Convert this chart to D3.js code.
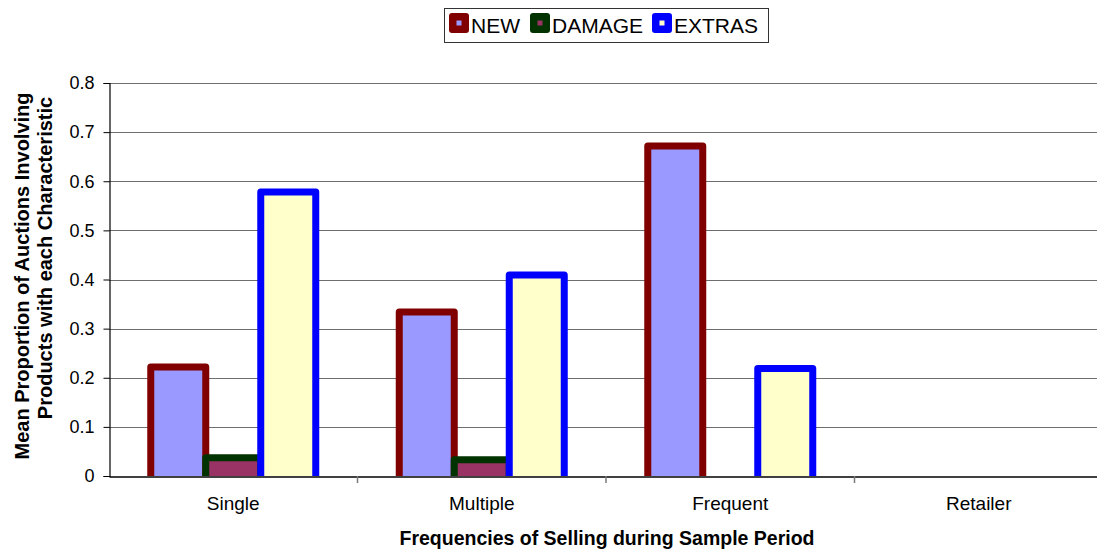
<!DOCTYPE html>
<html><head><meta charset="utf-8">
<script src="https://cdn.jsdelivr.net/npm/d3@7"></script>
<style>body{margin:0;background:#fff;}svg{display:block;font-family:"Liberation Sans",Arial,sans-serif;}</style>
</head><body>
<svg id="c" width="1097" height="555"></svg>
<script>
const categories = ["Single", "Multiple", "Frequent", "Retailer"];
const seriesNames = ["NEW", "DAMAGE", "EXTRAS"];
const newValues = [0.222, 0.334, 0.672, 0];
const damageValues = [0.037, 0.033, 0, 0];
const extrasValues = [0.578, 0.409, 0.219, 0];
const yTicks = [0, 0.1, 0.2, 0.3, 0.4, 0.5, 0.6, 0.7, 0.8];
const fills = ["#9999FF", "#993366", "#FFFFCC"];
const strokes = ["#800000", "#003300", "#0000FF"];

(function () {
const seriesValues = [newValues, damageValues, extrasValues];
const svg = d3.select("#c");
const pLeft = 109, pTop = 83, pBottom = 476, pRight = 1103;
const FONT = "Liberation Sans, Arial, sans-serif";

const x = d3.scaleBand().domain(categories).range([pLeft, pRight]).paddingInner(0).paddingOuter(0);
const x1 = d3.scaleBand().domain(seriesNames).range([0, 165]);
const y = d3.scaleLinear().domain([0, 0.8]).range([pBottom, pTop]);

// gridlines
svg.append("g").selectAll("line").data(yTicks.slice(1)).join("line")
  .attr("x1", pLeft).attr("x2", pRight)
  .attr("y1", d => Math.round(y(d)) + 0.5).attr("y2", d => Math.round(y(d)) + 0.5)
  .attr("stroke", "#6e6e6e").attr("stroke-width", 1.2);

// clip for bars
svg.append("clipPath").attr("id", "plotclip").append("rect")
  .attr("x", pLeft).attr("y", 0).attr("width", pRight - pLeft).attr("height", pBottom);

const barsG = svg.append("g").attr("clip-path", "url(#plotclip)");
seriesNames.forEach((s, si) => {
  barsG.append("g").selectAll("rect")
    .data(categories.map((c, i) => ({c, v: seriesValues[si][i]})).filter(d => d.v > 0))
    .join("rect")
    .attr("x", d => x(d.c) + (x.bandwidth() - 165) / 2 + x1(s))
    .attr("width", x1.bandwidth())
    .attr("y", d => y(d.v))
    .attr("height", d => y(0) - y(d.v) + 4)
    .attr("fill", fills[si])
    .attr("stroke", strokes[si])
    .attr("stroke-width", 7)
    .attr("stroke-linejoin", "round");
});

// y axis
const yAxis = d3.axisLeft(y).tickValues(yTicks).tickSize(6).tickPadding(9)
  .tickFormat(d => d === 0 ? "0" : d3.format(".1f")(d));
const ya = svg.append("g").attr("transform", `translate(${pLeft + 0.5},0)`).call(yAxis);
ya.select(".domain").attr("stroke", "#000").attr("stroke-width", 1.2);
ya.selectAll(".tick line").attr("stroke", "#000");
ya.selectAll("text").attr("font-size", 18).attr("fill", "#000").attr("font-family", FONT);

// x axis
const xa = svg.append("g").attr("transform", `translate(0,${pBottom + 0.5})`)
  .call(d3.axisBottom(x).tickSize(0).tickPadding(20));
xa.select(".domain").attr("stroke", "#000").attr("stroke-width", 1.5);
xa.selectAll("text").attr("font-size", 19).attr("fill", "#000").attr("font-family", FONT);
// category separator ticks
svg.append("g").selectAll("line").data(categories.slice(1)).join("line")
  .attr("x1", d => x(d)).attr("x2", d => x(d))
  .attr("y1", pBottom).attr("y2", pBottom + 7)
  .attr("stroke", "#7a7a7a").attr("stroke-width", 1.5);

// x title
svg.append("text").attr("x", 607).attr("y", 545).attr("text-anchor", "middle")
  .attr("font-size", 19.5).attr("font-weight", "bold")
  .text("Frequencies of Selling during Sample Period");

// y title (clipped at top like reference)
svg.append("clipPath").attr("id", "ytclip").append("rect")
  .attr("x", 0).attr("y", 94).attr("width", 60).attr("height", 460);
const yt = svg.append("g").attr("clip-path", "url(#ytclip)");
yt.append("text").attr("transform", "translate(29,276) rotate(-90)")
  .attr("text-anchor", "middle").attr("font-size", 20).attr("font-weight", "bold")
  .text("Mean Proportion of Auctions Involving");
yt.append("text").attr("transform", "translate(52,258) rotate(-90)")
  .attr("text-anchor", "middle").attr("font-size", 20).attr("font-weight", "bold")
  .text("Products with each Characteristic");

// legend
const lg = svg.append("g");
lg.append("rect").attr("x", 444.5).attr("y", 8.5).attr("width", 324).attr("height", 34)
  .attr("fill", "#fff").attr("stroke", "#333").attr("stroke-width", 1);
const legendX = [449, 530, 652];
seriesNames.forEach((s, i) => {
  const gx = legendX[i];
  lg.append("rect").attr("x", gx).attr("y", 13).attr("width", 20).attr("height", 20)
    .attr("rx", 3).attr("fill", strokes[i]);
  lg.append("rect").attr("x", gx + 7.5).attr("y", 20.5).attr("width", 5).attr("height", 5)
    .attr("fill", fills[i]);
  lg.append("text").attr("x", gx + 22).attr("y", 32.5).attr("font-size", 21).text(s);
});
})();
</script>
</body></html>
